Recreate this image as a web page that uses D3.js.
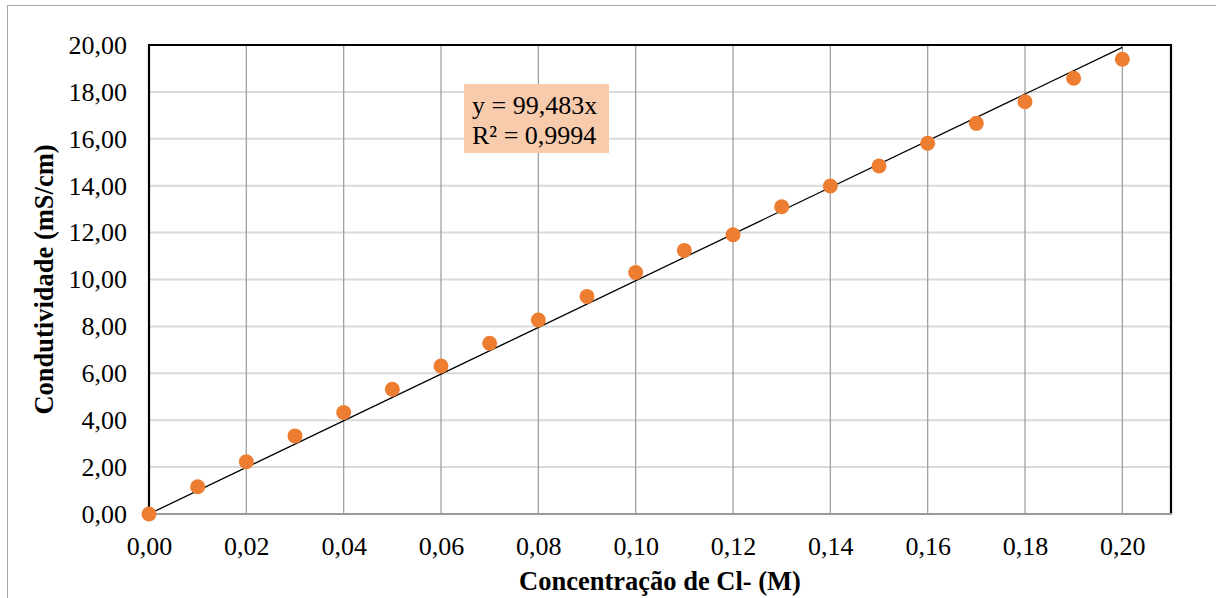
<!DOCTYPE html>
<html><head><meta charset="utf-8">
<script src="https://cdn.jsdelivr.net/npm/d3@7"></script>
<style>html,body{margin:0;padding:0;background:#fff;}svg{display:block;}
svg text{font-family:"Liberation Serif","Times New Roman",Times,"DejaVu Serif",serif !important;}</style>
</head><body>
<svg id="chart" width="1216" height="598"></svg>
<script>
const concentrations = [0.00,0.01,0.02,0.03,0.04,0.05,0.06,0.07,0.08,0.09,0.10,0.11,0.12,0.13,0.14,0.15,0.16,0.17,0.18,0.19,0.20];
const conductivity = [0.00,1.16,2.23,3.33,4.33,5.32,6.31,7.28,8.27,9.28,10.30,11.24,11.91,13.10,13.99,14.84,15.81,16.66,17.58,18.58,19.39];
const xTicks = [0.00,0.02,0.04,0.06,0.08,0.10,0.12,0.14,0.16,0.18,0.20];
const yTicks = [0,2,4,6,8,10,12,14,16,18,20];
const slope = 99.483;
const equationLines = ["y = 99,483x", "R\u00B2 = 0,9994"];
const xTitle = "Concentração de Cl- (M)";
const yTitle = "Condutividade (mS/cm)";

const svg = d3.select("#chart");
const L = 149, R = 1171, T = 45, B = 514;
const x = d3.scaleLinear().domain([0, 0.21]).range([L, R]);
const y = d3.scaleLinear().domain([0, 20]).range([B, T]);
const fmt = v => v.toFixed(2).replace(".", ",");

// outer chart border
svg.append("rect").attr("x", 7.5).attr("y", 5.5).attr("width", 1220).attr("height", 610)
  .attr("fill", "none").attr("stroke", "#a6a6a6").attr("stroke-width", 1);

// horizontal gridlines
svg.append("g").selectAll("line").data(yTicks.filter(d => d > 0 && d < 20)).join("line")
  .attr("x1", L).attr("x2", R).attr("y1", d => y(d)).attr("y2", d => y(d))
  .attr("stroke", "#d9d9d9").attr("stroke-width", 2);
// vertical gridlines
svg.append("g").selectAll("line").data(xTicks.filter(d => d > 0)).join("line")
  .attr("x1", d => x(d)).attr("x2", d => x(d)).attr("y1", T).attr("y2", B)
  .attr("stroke", "#a0a0a0").attr("stroke-width", 1.3);

// plot frame
svg.append("path").attr("d", `M${L},${B}V${T}H${R}V${B}`)
  .attr("fill", "none").attr("stroke", "#000").attr("stroke-width", 2.2);
svg.append("line").attr("x1", L).attr("x2", R + 1).attr("y1", B).attr("y2", B)
  .attr("stroke", "#9a9a9a").attr("stroke-width", 2);

// axes labels (using d3 axes, styled)
const xAxis = svg.append("g").attr("transform", `translate(0,${B})`)
  .call(d3.axisBottom(x).tickValues(xTicks).tickFormat(fmt).tickSize(0).tickPadding(23));
xAxis.select(".domain").remove();
xAxis.selectAll("text").style("font-size", "26px").attr("fill", "#000");

const yAxis = svg.append("g").attr("transform", `translate(${L},0)`)
  .call(d3.axisLeft(y).tickValues(yTicks).tickFormat(fmt).tickSize(0).tickPadding(22));
yAxis.select(".domain").remove();
yAxis.selectAll("text").style("font-size", "26px").attr("fill", "#000");

// trendline
svg.append("line")
  .attr("x1", x(0)).attr("y1", y(0))
  .attr("x2", x(d3.max(concentrations))).attr("y2", y(slope * d3.max(concentrations)))
  .attr("stroke", "#000").attr("stroke-width", 1.3);

// points
svg.append("g").selectAll("circle").data(concentrations).join("circle")
  .attr("cx", d => x(d)).attr("cy", (d, i) => y(conductivity[i])).attr("r", 7.5)
  .attr("fill", "#ED7D31");

// equation box
const box = svg.append("g");
box.append("rect").attr("x", 464).attr("y", 84).attr("width", 145).attr("height", 69).attr("fill", "#F8CBAD");
box.selectAll("text").data(equationLines).join("text")
  .attr("x", 472).attr("y", (d, i) => 114 + i * 30)
  .style("font-size", "26px").attr("fill", "#000")
  .text(d => d);

// axis titles
svg.append("text").attr("x", (L + R) / 2).attr("y", 590).attr("text-anchor", "middle")
  .style("font-size", "26.5px").style("font-weight", "bold").text(xTitle);
svg.append("text").attr("transform", `translate(53,${(T + B) / 2}) rotate(-90)`).attr("text-anchor", "middle")
  .style("font-size", "26.5px").style("font-weight", "bold").text(yTitle);
</script>
</body></html>
